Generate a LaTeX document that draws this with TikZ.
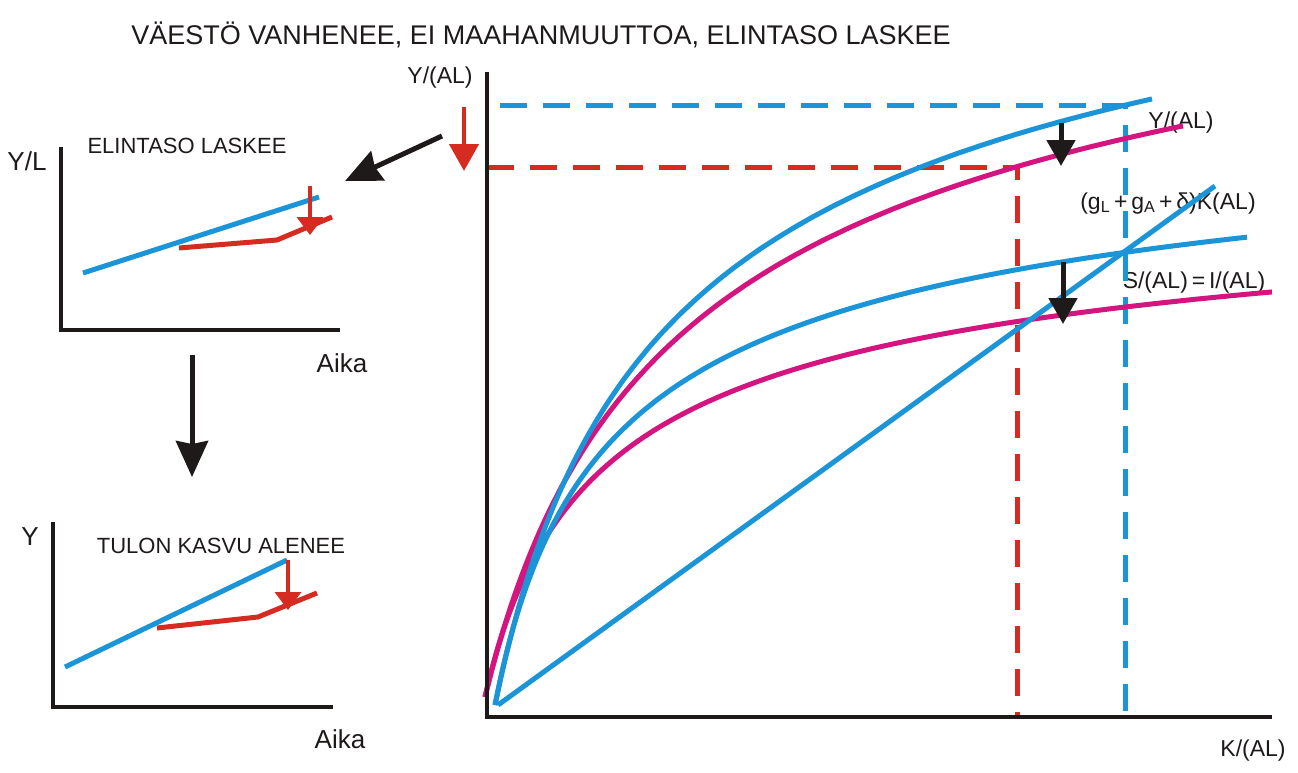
\documentclass[tikz,border=0pt]{standalone}
\usepackage{fontspec}
\setmainfont{Liberation Sans}
\usetikzlibrary{arrows.meta}
\definecolor{cblue}{HTML}{1B95D8}
\definecolor{cmag}{HTML}{D4147F}
\definecolor{cred}{HTML}{D62B20}
\definecolor{cblack}{HTML}{1E1A1A}
\begin{document}
\begin{tikzpicture}[x=1pt,y=-1pt,
  axisline/.style={cblack, line width=4.5pt},
  bluecurve/.style={cblue, line width=5pt},
  magcurve/.style={cmag, line width=5pt},
  redline/.style={cred, line width=5pt},
  bluedash/.style={cblue, line width=5pt, dash pattern=on 27pt off 16pt},
  reddash/.style={cred, line width=5pt, dash pattern=on 27pt off 16pt},
  bigarrow/.style={cblack, line width=5pt, -{Stealth[length=36pt, width=32pt, inset=3pt]}},
  smallarrow/.style={cblack, line width=5pt, -{Triangle[length=26pt, width=28pt]}},
  redarrow/.style={cred, line width=4.5pt, -{Triangle[length=27pt, width=29pt]}},
  minired/.style={cred, line width=3.5pt, -{Triangle[length=18pt, width=26pt]}},
  lbl/.style={inner sep=0pt, text=cblack, anchor=base},
  f22/.style={font=\fontsize{22pt}{24pt}\selectfont},
  f23/.style={font=\fontsize{23pt}{26pt}\selectfont},
  f26/.style={font=\fontsize{26pt}{28pt}\selectfont},
  f27/.style={font=\fontsize{27pt}{30pt}\selectfont}
]
\useasboundingbox[fill=white] (0,0) rectangle (1298,772);

% title
\node[lbl,f27] (title) at (541,44) {VÄESTÖ VANHENEE, EI MAAHANMUUTTOA, ELINTASO LASKEE};

% ---------- top-left chart ----------
\node[lbl,f26] (yl) at (27,170) {Y/L};
\node[lbl,f22] (t1) at (187,153) {ELINTASO LASKEE};
\node[lbl,f26] (aika1) at (342,372) {Aika};
\draw[axisline] (61,147) -- (61,330) -- (340,330);
\coordinate (b1s) at (83,273); \coordinate (b1e) at (319,197);
\draw[bluecurve] (b1s) -- (b1e);
\coordinate (r1a) at (179,248); \coordinate (r1b) at (277,240); \coordinate (r1c) at (332,217);
\draw[redline] (r1a) -- (r1b) -- (r1c);
\coordinate (ra1s) at (310,186); \coordinate (ra1e) at (310,235);
\draw[minired] (ra1s) -- (ra1e);

% ---------- down arrow ----------
\coordinate (da1) at (192,355); \coordinate (da2) at (192,477);
\draw[bigarrow] (da1) -- (da2);

% ---------- bottom-left chart ----------
\node[lbl,f26] (y2) at (30,545) {Y};
\node[lbl,f22] (t2) at (221,553) {TULON KASVU ALENEE};
\node[lbl,f26] (aika2) at (340,748) {Aika};
\draw[axisline] (53,522) -- (53,707) -- (333,707);
\coordinate (b2s) at (65,667); \coordinate (b2e) at (287,560);
\draw[bluecurve] (b2s) -- (b2e);
\coordinate (r2a) at (157,628); \coordinate (r2b) at (258,617); \coordinate (r2c) at (317,593);
\draw[redline] (r2a) -- (r2b) -- (r2c);
\coordinate (ra2s) at (288,560); \coordinate (ra2e) at (288,610);
\draw[minired] (ra2s) -- (ra2e);

% ---------- diagonal arrow ----------
\coordinate (dg1) at (442,136); \coordinate (dg2) at (345,181);
\draw[bigarrow] (dg1) -- (dg2);

% ---------- main chart ----------
\node[lbl,f23] (yal) at (440,83) {Y/(AL)};
\node[lbl,f23] (kal) at (1253,756) {K/(AL)};
\node[lbl,f23] (yal2) at (1181,128) {Y/(AL)};
\node[lbl,f23] (gl) at (1168,209) {(g\textsubscript{L}\,+\,g\textsubscript{A}\,+\,δ)K(AL)};
\node[lbl,f23] (si) at (1194,288) {S/(AL)\,=\,I/(AL)};

% dashed guides
\draw[bluedash] (500,105) -- (1125,105) -- (1125,717);
\draw[reddash] (487,167) -- (1017,167) -- (1017,717);

% red arrow
\coordinate (ma1) at (464,107); \coordinate (ma2) at (464,171);
\draw[redarrow] (ma1) -- (ma2);

% curves: y = y0 - A (1 - 1/sqrt(1+(x-x0)/B))
\draw[magcurve] plot[domain=485:1183, samples=120, smooth] (\x, {697 - 905*(1 - 1/sqrt(1+(\x-485)/110))});
\draw[magcurve] plot[domain=485:1272, samples=120, smooth] (\x, {697 - 556.6*(1 - 1/sqrt(1+(\x-485)/63))});
\draw[bluecurve] plot[domain=495:1152, samples=120, smooth] (\x, {705 - 945*(1 - 1/sqrt(1+(\x-495)/97))});
\draw[bluecurve] plot[domain=495:1247, samples=120, smooth] (\x, {705 - 648*(1 - 1/sqrt(1+(\x-495)/63))});
\coordinate (ls) at (498,705); \coordinate (le) at (1215,186);
\draw[bluecurve] (ls) -- (le);

% axes
\draw[axisline] (487,72) -- (487,717) -- (1272,717);

% black shift arrows
\coordinate (sa1) at (1061,123); \coordinate (sa2) at (1061,166);
\draw[smallarrow] (sa1) -- (sa2);
\coordinate (sb1) at (1063,262); \coordinate (sb2) at (1063,324);
\draw[smallarrow] (sb1) -- (sb2);
\end{tikzpicture}
\end{document}
